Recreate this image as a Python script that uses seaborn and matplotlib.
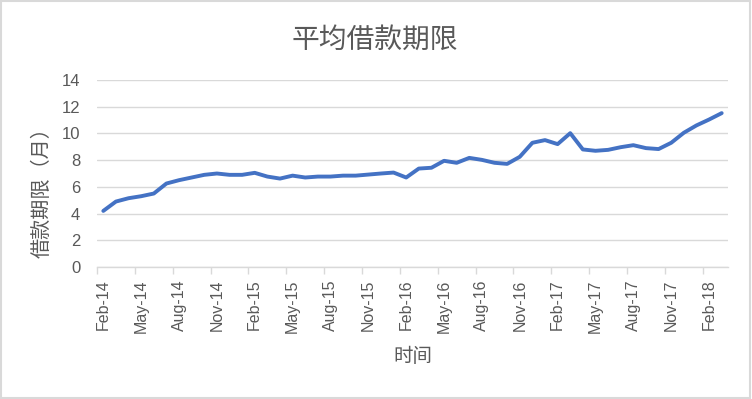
import numpy as np
import pandas as pd
import matplotlib
matplotlib.use("Agg")
import matplotlib.pyplot as plt
import seaborn as sns
from matplotlib.patches import Rectangle

# Data: average loan term (months), monthly Feb-14 .. Mar-18
months = pd.date_range("2014-02-01", periods=50, freq="MS")
term = [4.2, 4.9, 5.15, 5.3, 5.5, 6.25, 6.5, 6.7, 6.9, 7.0,
        6.9, 6.9, 7.05, 6.77, 6.62, 6.84, 6.7, 6.77, 6.77, 6.84,
        6.84, 6.92, 7.0, 7.07, 6.7, 7.37, 7.43, 7.95, 7.8, 8.17,
        8.02, 7.8, 7.72, 8.25, 9.3, 9.5, 9.2, 10.02, 8.8, 8.7,
        8.77, 8.97, 9.12, 8.9, 8.83, 9.3, 10.05, 10.6, 11.04, 11.52]
tick_labels = [d.strftime("%b-%y") for d in months[::3]]

df = pd.DataFrame({"idx": np.arange(len(term)), "term": term})

sns.set_theme(style="white")
cjk = ["Noto Sans CJK SC", "DejaVu Sans"]
plt.rcParams["font.family"] = ["Liberation Sans", "Noto Sans CJK SC", "DejaVu Sans"]
txt = "#595959"
grid = "#D9D9D9"

fig = plt.figure(figsize=(7.52, 3.99), dpi=100)
ax = fig.add_axes([97 / 752, 1 - 267 / 399, (728 - 97) / 752, (267 - 80) / 399])

sns.lineplot(data=df, x="idx", y="term", ax=ax, color="#4472C4", linewidth=2.8)

ax.set_xlim(-0.5, len(term) - 0.5)
ax.set_ylim(0, 14)
ax.set_yticks(np.arange(0, 15, 2))
ax.yaxis.grid(True, color=grid, linewidth=1)
ax.set_axisbelow(True)

ax.set_xticks(np.arange(0, len(term), 3))
ax.set_xticklabels(tick_labels, rotation=90)
ax.set_xticks(np.arange(-0.5, len(term) - 1, 3), minor=True)
ax.tick_params(axis="x", which="major", length=0, pad=9, labelsize=11.5, colors=txt)
ax.tick_params(axis="x", which="minor", length=5, width=1, color=grid, bottom=True)
ax.tick_params(axis="y", length=0, pad=12, labelsize=12, colors=txt)

for s in ["top", "right", "left"]:
    ax.spines[s].set_visible(False)
ax.spines["bottom"].set_color(grid)
ax.spines["bottom"].set_linewidth(1)

ax.set_xlabel("")
ax.set_ylabel("")
fig.text(42 / 752, 1 - 188 / 399, "借款期限（月）", rotation=90, ha="center", va="center",
         fontsize=14.5, color=txt, family=cjk, fontweight="light")
fig.text(413 / 752, 1 - 357 / 399, "时间", ha="center", va="center",
         fontsize=14, color=txt, family=cjk, fontweight="light")
fig.text(375 / 752, 1 - 40 / 399, "平均借款期限", ha="center", va="center",
         fontsize=20, color=txt, family=cjk, fontweight="light")

fig.patches.append(Rectangle((0.001, 0.002), 0.997, 0.995, transform=fig.transFigure,
                             fill=False, edgecolor=grid, linewidth=1.5))

fig.savefig("out.png", dpi=100)
